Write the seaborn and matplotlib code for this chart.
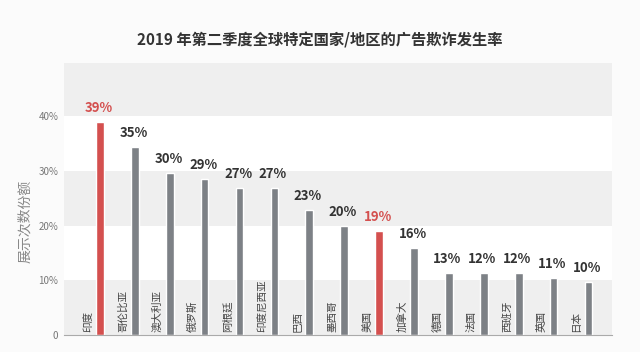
import pandas as pd
import seaborn as sns
import matplotlib.pyplot as plt

TITLE = "2019 年第二季度全球特定国家/地区的广告欺诈发生率"
Y_LABEL = "展示次数份额"

countries = ["印度", "哥伦比亚", "澳大利亚", "俄罗斯", "阿根廷", "印度尼西亚", "巴西",
             "墨西哥", "美国", "加拿大", "德国", "法国", "西班牙", "英国", "日本"]
# bar heights as drawn (percent)
heights = [38.9, 34.3, 29.6, 28.5, 26.8, 26.8, 22.8, 19.9, 19.0, 15.9,
           11.3, 11.3, 11.3, 10.5, 9.7]
# printed value labels
value_labels = ["39%", "35%", "30%", "29%", "27%", "27%", "23%", "20%", "19%",
                "16%", "13%", "12%", "12%", "11%", "10%"]
highlight = ["印度", "美国"]
y_ticks = [0, 10, 20, 30, 40]
y_tick_labels = ["0", "10%", "20%", "30%", "40%"]

RED = "#d4504f"
GREY = "#7d8186"

sns.set_theme(style="white")
plt.rcParams["font.family"] = ["Noto Sans CJK SC", "DejaVu Sans"]

df = pd.DataFrame({"country": countries, "share": heights})
palette = {c: (RED if c in highlight else GREY) for c in countries}

fig = plt.figure(figsize=(6.4, 3.52), dpi=100, facecolor="#fbfbfb")
ax = fig.add_axes([0.1, 0.048, 0.856, 0.773])
ax.set_facecolor("white")

ymax = 49.7
# alternating background bands
for lo, hi in [(0, 10), (20, 30), (40, ymax)]:
    ax.axhspan(lo, hi, color="#efefef", zorder=0, lw=0)

sns.barplot(data=df, x="country", y="share", hue="country", palette=palette,
            width=0.22, legend=False, ax=ax, zorder=2, saturation=1)

for i, (h, lab, c) in enumerate(zip(heights, value_labels, countries)):
    col = RED if c in highlight else "#333333"
    ax.annotate(lab, (i, h), xytext=(-1, 5), textcoords="offset points",
                ha="center", va="bottom", fontsize=9.5, fontweight="bold", color=col)
    ax.text(i - 0.34, 0.6, c, rotation=90, ha="center", va="bottom",
            fontsize=7.6, color="#444444", zorder=3)

ax.set_xlim(-1.03, 14.67)
ax.set_ylim(0, ymax)
ax.set_xticks([])
ax.set_yticks(y_ticks)
ax.set_yticklabels(y_tick_labels, fontsize=7, color="#777777")
ax.tick_params(axis="y", length=0, pad=4)
ax.set_xlabel("")
ax.set_ylabel("")
for s in ["top", "right", "left"]:
    ax.spines[s].set_visible(False)
ax.spines["bottom"].set_color("#aaaaaa")
ax.spines["bottom"].set_linewidth(0.8)

fig.text(0.04, 0.37, Y_LABEL, rotation=90, ha="center", va="center",
         fontsize=10, color="#888888")
fig.text(0.5, 0.886, TITLE, ha="center", va="center", fontsize=11,
         fontweight="bold", color="#333333")

fig.savefig("out.png", dpi=100, facecolor=fig.get_facecolor())
